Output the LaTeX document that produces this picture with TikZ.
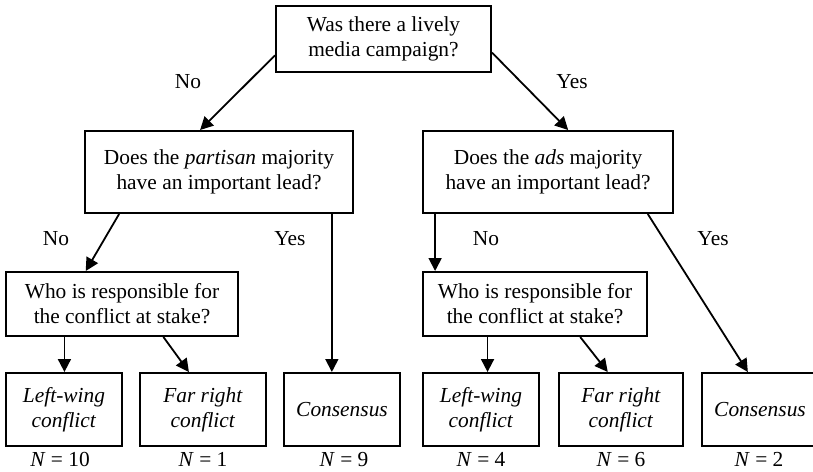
\documentclass[tikz,border=0pt]{standalone}
\usepackage{fontspec}
\setmainfont{Liberation Serif}
\usetikzlibrary{arrows.meta,calc}
\begin{document}
\begin{tikzpicture}[x=1pt,y=-1pt,
  every node/.style={font=\fontsize{21.4}{25}\selectfont},
  box/.style={draw,line width=2pt,inner sep=0pt,align=center,anchor=center},
  lbl/.style={inner sep=0pt,anchor=center},
  nlbl/.style={inner sep=0pt,anchor=base},
  conn/.style={line width=1.8pt,-{Triangle[length=13pt,width=13pt]}}]
\useasboundingbox (0,0) rectangle (813,471);
\node[box,minimum width=215pt,minimum height=66pt] (top) at (383.5,39) {Was there a lively\\media campaign?};
\node[box,minimum width=268pt,minimum height=82pt] (partisan) at (219,172) {Does the \textit{partisan} majority\\have an important lead?};
\node[box,minimum width=250pt,minimum height=82pt] (ads) at (548,172) {Does the \textit{ads} majority\\have an important lead?};
\node[box,minimum width=232pt,minimum height=64pt] (whoL) at (122,304) {Who is responsible for\\the conflict at stake?};
\node[box,minimum width=224pt,minimum height=64pt] (whoR) at (535,304) {Who is responsible for\\the conflict at stake?};
\node[box,minimum width=116pt,minimum height=73pt] (lw1) at (64,409.5) {\textit{Left-wing}\\\textit{conflict}};
\node[box,minimum width=126pt,minimum height=73pt] (fr1) at (203,409.5) {\textit{Far right}\\\textit{conflict}};
\node[box,minimum width=116pt,minimum height=73pt] (c1) at (342,409.5) {\textit{Consensus}};
\node[box,minimum width=116pt,minimum height=73pt] (lw2) at (481,409.5) {\textit{Left-wing}\\\textit{conflict}};
\node[box,minimum width=124pt,minimum height=73pt] (fr2) at (621,409.5) {\textit{Far right}\\\textit{conflict}};
\node[box,minimum width=116pt,minimum height=73pt] (c2) at (760,409.5) {\textit{Consensus}};
\node[nlbl] (n1) at (60,466) {\textit{N} = 10};
\node[nlbl] (n2) at (203,466) {\textit{N} = 1};
\node[nlbl] (n3) at (344,466) {\textit{N} = 9};
\node[nlbl] (n4) at (481,466) {\textit{N} = 4};
\node[nlbl] (n5) at (621,466) {\textit{N} = 6};
\node[nlbl] (n6) at (759,466) {\textit{N} = 2};
\node[lbl] (l1) at (188,82) {No};
\node[lbl] (l2) at (572,82) {Yes};
\node[lbl] (l3) at (56,239) {No};
\node[lbl] (l4) at (290,239) {Yes};
\node[lbl] (l5) at (486,239) {No};
\node[lbl] (l6) at (713,239) {Yes};
\draw[conn] ($(top.north west)!0.74!(top.south west)$) -- ($(partisan.north west)!0.43!(partisan.north east)$);
\draw[conn] ($(top.north east)!0.70!(top.south east)$) -- ($(ads.north west)!0.58!(ads.north east)$);
\draw[conn] ($(partisan.south west)!0.13!(partisan.south east)$) -- ($(whoL.north west)!0.345!(whoL.north east)$);
\coordinate (pY) at ($(partisan.south west)!0.918!(partisan.south east)$);
\draw[conn] (pY) -- (pY |- c1.north);
\coordinate (wL1) at ($(whoL.south west)!0.254!(whoL.south east)$);
\draw[conn] (wL1) -- (wL1 |- lw1.north);
\draw[conn] ($(whoL.south west)!0.677!(whoL.south east)$) -- ($(fr1.north west)!0.39!(fr1.north east)$);
\coordinate (aN) at ($(ads.south west)!0.052!(ads.south east)$);
\draw[conn] (aN) -- (aN |- whoR.north);
\draw[conn] ($(ads.south west)!0.896!(ads.south east)$) -- ($(c2.north west)!0.397!(c2.north east)$);
\coordinate (wR1) at ($(whoR.south west)!0.29!(whoR.south east)$);
\draw[conn] (wR1) -- (wR1 |- lw2.north);
\draw[conn] ($(whoR.south west)!0.70!(whoR.south east)$) -- ($(fr2.north west)!0.395!(fr2.north east)$);
\end{tikzpicture}
\end{document}
